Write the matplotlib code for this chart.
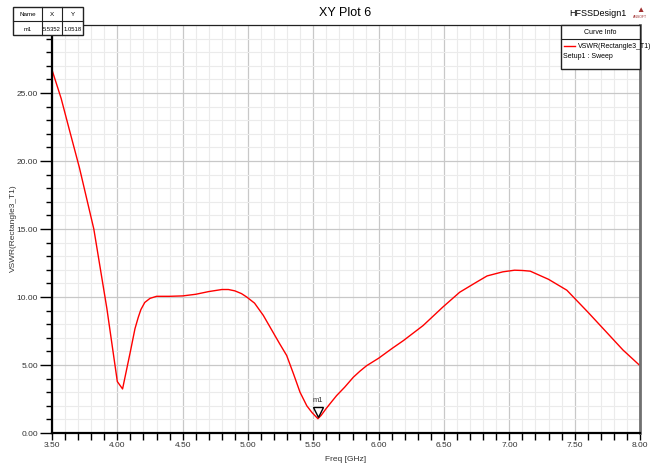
import matplotlib
matplotlib.use("Agg")
import matplotlib.pyplot as plt
import matplotlib.transforms as mtransforms
from matplotlib.ticker import MultipleLocator, FormatStrFormatter, FixedLocator
from matplotlib.patches import Rectangle
from matplotlib.lines import Line2D

plt.rcParams['font.family'] = ['Liberation Sans Narrow', 'Liberation Sans', 'DejaVu Sans']

freq = [3.5, 3.57, 3.63, 3.71, 3.82, 3.92, 4.00, 4.04, 4.10, 4.135, 4.16, 4.18, 4.21, 4.25,
        4.30, 4.40, 4.50, 4.60, 4.70, 4.80, 4.85, 4.90, 4.95, 4.99, 5.05, 5.117, 5.18,
        5.24, 5.296, 5.35, 5.398, 5.45, 5.49, 5.5352, 5.56, 5.60, 5.64, 5.678, 5.74,
        5.806, 5.857, 5.908, 6.00, 6.10, 6.19, 6.34, 6.49, 6.62, 6.75, 6.83, 6.95, 7.04,
        7.10, 7.16, 7.30, 7.44, 7.49, 7.60, 7.74, 7.87, 8.0]
vswr = [26.7, 24.6, 22.4, 19.5, 15.0, 9.15, 3.78, 3.24, 6.0, 7.67, 8.5, 9.07, 9.6, 9.9,
        10.05, 10.05, 10.08, 10.2, 10.4, 10.55, 10.55, 10.45, 10.25, 10.0, 9.55, 8.65, 7.6,
        6.6, 5.7, 4.3, 3.0, 2.0, 1.5, 1.0518, 1.3, 1.82, 2.3, 2.75, 3.37,
        4.1, 4.55, 4.95, 5.5, 6.2, 6.8, 7.9, 9.25, 10.35, 11.1, 11.55, 11.85, 11.97,
        11.95, 11.9, 11.3, 10.5, 10.0, 8.9, 7.45, 6.1, 4.95]
y_major_ticks = [0, 5, 10, 15, 20, 25]

marker_name = "m1"
marker_x = 5.5352
marker_y = 1.0518
curve_name = "VSWR(Rectangle3_T1)"
setup_name = "Setup1 : Sweep"

W, H = 650, 464
fig = plt.figure(figsize=(W / 100, H / 100), dpi=100)
ax = fig.add_axes([52 / W, 1 - 434 / H, (640 - 52) / W, (434 - 26) / H])

ax.plot(freq, vswr, color='#ff0000', lw=1.0)
ax.set_xlim(3.5, 8.0)
ax.set_ylim(0, 30)

ax.xaxis.set_major_locator(MultipleLocator(0.5))
ax.xaxis.set_minor_locator(MultipleLocator(0.1))
ax.yaxis.set_major_locator(FixedLocator(y_major_ticks))
ax.yaxis.set_minor_locator(MultipleLocator(1))
ax.xaxis.set_major_formatter(FormatStrFormatter('%.2f'))
ax.yaxis.set_major_formatter(FormatStrFormatter('%.2f'))

ax.grid(which='minor', color='#ebebeb', lw=0.8)
ax.grid(which='major', color='#c8c8c8', lw=0.9)
ax.set_axisbelow(True)

ax.tick_params(which='major', direction='out', length=9, width=1.0, labelsize=6, pad=1, colors='black')
ax.tick_params(which='minor', direction='out', length=4, width=1.0)
ax.tick_params(axis='x', which='major', length=5)
ax.tick_params(axis='x', which='minor', length=5)
ax.tick_params(axis='y', labelcolor='#333333')
ax.tick_params(axis='x', labelcolor='#333333')

for s in ['left', 'bottom']:
    ax.spines[s].set_linewidth(1.6)
    ax.spines[s].set_color('black')
ax.spines['top'].set_linewidth(0.9)
ax.spines['top'].set_color('#222222')
ax.spines['right'].set_linewidth(2.0)
ax.spines['right'].set_color('#707070')

ax.set_xlabel('Freq [GHz]', fontsize=6, labelpad=5, color='#333333')
fig.text(13 / W, 1 - 228 / H, curve_name, rotation=90, fontsize=6, ha='center', va='center', color='#333333')

# marker
off = mtransforms.offset_copy(ax.transData, fig=fig, x=0, y=5, units='points')
ax.plot([marker_x], [marker_y], marker='v', ms=7, mfc='white', mec='black', mew=1.0, ls='none',
        transform=off)
ax.annotate(marker_name, (marker_x, marker_y), xytext=(0, 11), textcoords='offset points',
            ha='center', va='bottom', fontsize=5.5, color='#333333')

# title texts
fig.text(345 / W, 1 - 13 / H, 'XY Plot 6', fontsize=9, ha='center', va='center')
fig.text(626 / W, 1 - 14 / H, 'HFSSDesign1', fontsize=6.5, ha='right', va='center')
fig.text(640 / W, 1 - 10 / H, '\u25B2', fontsize=6, ha='center', va='center', color='#a03030')
fig.text(640 / W, 1 - 17 / H, 'ANSOFT', fontsize=2.5, ha='center', va='center', color='#a03030')

# marker table
def px_rect(x0, y0, x1, y1, **kw):
    r = Rectangle((x0 / W, 1 - y1 / H), (x1 - x0) / W, (y1 - y0) / H, transform=fig.transFigure, **kw)
    fig.add_artist(r)

tx = [13, 42, 62, 83]
ty = [8, 22, 36]
px_rect(tx[0], ty[0], tx[3], ty[2], fill=True, fc='white', ec='#222222', lw=1.0, zorder=5)
for xv in tx[1:3]:
    fig.add_artist(Line2D([xv / W, xv / W], [1 - ty[0] / H, 1 - ty[2] / H], transform=fig.transFigure,
                          color='#222222', lw=0.8, zorder=6))
fig.add_artist(Line2D([tx[0] / W, tx[3] / W], [1 - ty[1] / H, 1 - ty[1] / H], transform=fig.transFigure,
                      color='#222222', lw=0.8, zorder=6))
hdr = ['Name', 'X', 'Y']
row = [marker_name, '%.4f' % marker_x, '%.4f' % marker_y]
for i in range(3):
    cx = (tx[i] + tx[i + 1]) / 2
    fig.text(cx / W, 1 - 14.5 / H, hdr[i], fontsize=4.5, ha='center', va='center', zorder=7)
    fig.text(cx / W, 1 - 29.5 / H, row[i], fontsize=4.2, ha='center', va='center', zorder=7)

# curve info box
px_rect(561, 26, 640, 70, fill=True, fc='white', ec='#222222', lw=1.0, zorder=5)
fig.add_artist(Line2D([561 / W, 640 / W], [1 - 40 / H, 1 - 40 / H], transform=fig.transFigure,
                      color='#222222', lw=0.8, zorder=6))
fig.text(600 / W, 1 - 33 / H, 'Curve Info', fontsize=5, ha='center', va='center', zorder=7)
fig.add_artist(Line2D([564 / W, 575 / W], [1 - 47 / H, 1 - 47 / H], transform=fig.transFigure,
                      color='#ff0000', lw=1.0, zorder=6))
fig.text(578 / W, 1 - 47 / H, curve_name, fontsize=5, ha='left', va='center', zorder=7)
fig.text(563 / W, 1 - 56 / H, setup_name, fontsize=5, ha='left', va='center', zorder=7)

fig.savefig('out.png', dpi=100)
